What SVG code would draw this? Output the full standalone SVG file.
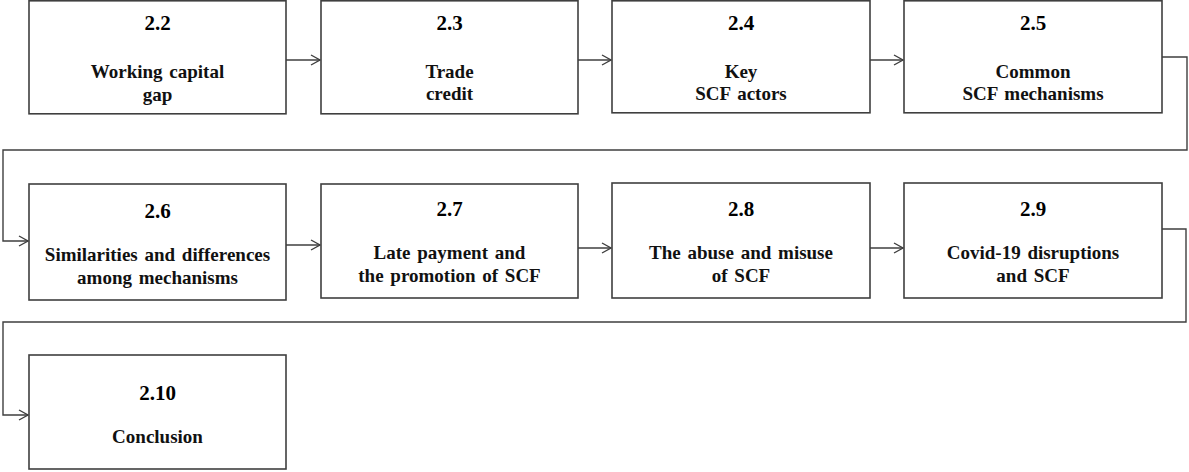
<svg xmlns="http://www.w3.org/2000/svg" width="1189" height="472" viewBox="0 0 1189 472">
  <style>
    .box { fill: #ffffff; stroke: #3f3f3f; stroke-width: 1.6; }
    .num { font-size: 21px; fill: #000000; }
    .lbl { font-size: 19px; fill: #111111; word-spacing: 2px; }
    .conn { fill: none; stroke: #3f3f3f; stroke-width: 1.4; marker-end: url(#arrow); }
  </style>
  <defs>
    <marker id="arrow" markerWidth="12" markerHeight="12" refX="10" refY="6" orient="auto" markerUnits="userSpaceOnUse">
      <path d="M1,1 L10,6 L1,11" fill="none" stroke="#3f3f3f" stroke-width="1.4"/>
    </marker>
  </defs>
  <rect width="1189" height="472" fill="#ffffff"/>

  <!-- connectors -->
  <g id="connectors">
    <path class="conn" d="M286,60 H320"/>
    <path class="conn" d="M578,60 H611"/>
    <path class="conn" d="M870,60 H903"/>
    <path class="conn" d="M1162,57 H1187 V150 H3 V241 H28"/>
    <path class="conn" d="M286,245 H320"/>
    <path class="conn" d="M578,248 H611"/>
    <path class="conn" d="M870,248 H903"/>
    <path class="conn" d="M1162,229 H1186 V322 H3 V415 H28"/>
  </g>

  <g id="nodes" font-family="Liberation Serif, serif" font-weight="bold" text-anchor="middle">
    <!-- row 1 -->
    <g id="n2_2">
      <rect class="box" x="29" y="0.8" width="257" height="113"/>
      <text class="num" x="157.5" y="30">2.2</text>
      <text class="lbl" x="157.5" y="78">Working capital</text>
      <text class="lbl" x="157.5" y="101">gap</text>
    </g>
    <g id="n2_3">
      <rect class="box" x="321" y="0.8" width="257" height="113"/>
      <text class="num" x="449.5" y="30">2.3</text>
      <text class="lbl" x="449.5" y="78">Trade</text>
      <text class="lbl" x="449.5" y="100">credit</text>
    </g>
    <g id="n2_4">
      <rect class="box" x="612" y="0.8" width="258" height="112"/>
      <text class="num" x="741" y="30">2.4</text>
      <text class="lbl" x="741" y="78">Key</text>
      <text class="lbl" x="741" y="100">SCF actors</text>
    </g>
    <g id="n2_5">
      <rect class="box" x="904" y="0.8" width="258" height="112"/>
      <text class="num" x="1033" y="30">2.5</text>
      <text class="lbl" x="1033" y="78">Common</text>
      <text class="lbl" x="1033" y="100">SCF mechanisms</text>
    </g>

    <!-- row 2 -->
    <g id="n2_6">
      <rect class="box" x="29" y="184" width="257" height="116"/>
      <text class="num" x="157.5" y="218">2.6</text>
      <text class="lbl" x="157.5" y="261">Similarities and differences</text>
      <text class="lbl" x="157.5" y="284">among mechanisms</text>
    </g>
    <g id="n2_7">
      <rect class="box" x="321" y="184" width="257" height="114"/>
      <text class="num" x="449.5" y="216">2.7</text>
      <text class="lbl" x="449.5" y="259">Late payment and</text>
      <text class="lbl" x="449.5" y="282">the promotion  of SCF</text>
    </g>
    <g id="n2_8">
      <rect class="box" x="612" y="183" width="258" height="115"/>
      <text class="num" x="741" y="216">2.8</text>
      <text class="lbl" x="741" y="259">The abuse and misuse</text>
      <text class="lbl" x="741" y="282">of SCF</text>
    </g>
    <g id="n2_9">
      <rect class="box" x="904" y="183" width="258" height="115"/>
      <text class="num" x="1033" y="216">2.9</text>
      <text class="lbl" x="1033" y="259">Covid-19 disruptions</text>
      <text class="lbl" x="1033" y="282">and SCF</text>
    </g>

    <!-- row 3 -->
    <g id="n2_10">
      <rect class="box" x="29" y="355" width="257" height="114"/>
      <text class="num" x="157.5" y="400">2.10</text>
      <text class="lbl" x="157.5" y="443">Conclusion</text>
    </g>
  </g>
</svg>
